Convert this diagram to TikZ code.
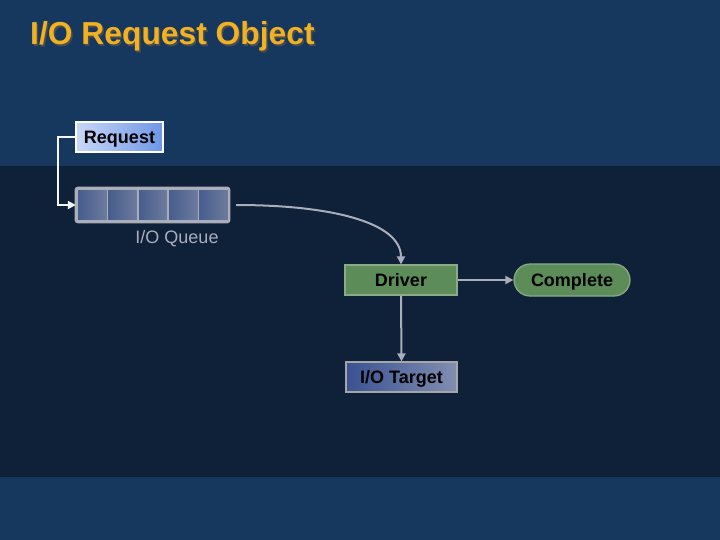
\documentclass[tikz,border=0pt]{standalone}
\usepackage{fontspec}
\setmainfont{Liberation Sans}
\usetikzlibrary{arrows.meta}
\definecolor{bandblue}{RGB}{23,56,94}
\definecolor{deepblue}{RGB}{15,32,57}
\definecolor{titleyellow}{RGB}{240,178,36}
\definecolor{wiregray}{RGB}{168,174,186}
\definecolor{drivergreen}{RGB}{92,140,88}
\definecolor{greenedge}{RGB}{140,170,135}
\definecolor{reqlight}{RGB}{200,216,248}
\definecolor{reqdark}{RGB}{110,150,230}
\definecolor{celldark}{RGB}{70,92,140}
\definecolor{celllight}{RGB}{110,124,158}
\definecolor{tgtdark}{RGB}{58,82,146}
\definecolor{tgtlight}{RGB}{128,142,176}
\begin{document}
\begin{tikzpicture}[x=1pt, y=-1pt,
    wire/.style={wiregray, line width=2pt, -{Triangle[length=8pt, width=8pt]}},
    box/.style={draw, line width=1.2pt, minimum height=30pt, inner sep=0pt, text height=12.9pt, text depth=0pt, font=\bfseries\fontsize{18}{21}\selectfont, text=black},
    cellbox/.style={draw=wiregray, line width=1.5pt, left color=celldark, right color=celllight},
    tag/.style={text=wiregray, font=\fontsize{18}{21}\selectfont}]
	% background bands
	\fill[bandblue] (0,0) rectangle (720,540);
	\fill[deepblue] (0,166) rectangle (720,477);
	\useasboundingbox (0,0) rectangle (720,540);
	\node[anchor=base west, inner sep=0pt, text=black!70, font=\bfseries\fontsize{31.8}{36}\selectfont] at (31.5,46.5) {I/O Request Object};
	\node[anchor=base west, inner sep=0pt, text=titleyellow, font=\bfseries\fontsize{31.8}{36}\selectfont] (title) at (30,45) {I/O Request Object};

	\node[box, draw=white, minimum width=87pt, left color=reqlight, right color=reqdark] (request) at (119.5,137) {Request};

	% queue of five cells
	\node[minimum width=153pt, minimum height=34pt, inner sep=0pt] (queue) at (152.5,205) {};
	\foreach \i in {0,...,4}
		\draw[cellbox] (77.5+30.2*\i,189.5) rectangle ++(30.2,31);
	\draw[wiregray, line width=2.2pt, rounded corners=2pt] (queue.north west) rectangle (queue.south east);
	\node[tag] (qlabel) at (177,239) {I/O Queue};

	\node[box, draw=greenedge, minimum width=112pt, fill=drivergreen] (driver) at (401,280) {Driver};
	\node[box, draw=greenedge, minimum width=116pt, minimum height=32pt, rounded corners=16pt, fill=drivergreen] (complete) at (572,280) {Complete};
	\node[box, draw=gray!70, minimum width=111pt, left color=tgtdark, right color=tgtlight] (target) at (401.5,377) {I/O Target};

	\draw[wire, white!90!wiregray] (request.west) -- ++(-17,0) |- (queue.west);
	\draw[wire, shorten <=7pt] (queue.east) .. controls (330,205) and (401,222) .. (driver.north);
	\draw[wire] (driver.east) -- (complete.west);
	\draw[wire] (driver.south) -- (target.north);
\end{tikzpicture}
\end{document}
